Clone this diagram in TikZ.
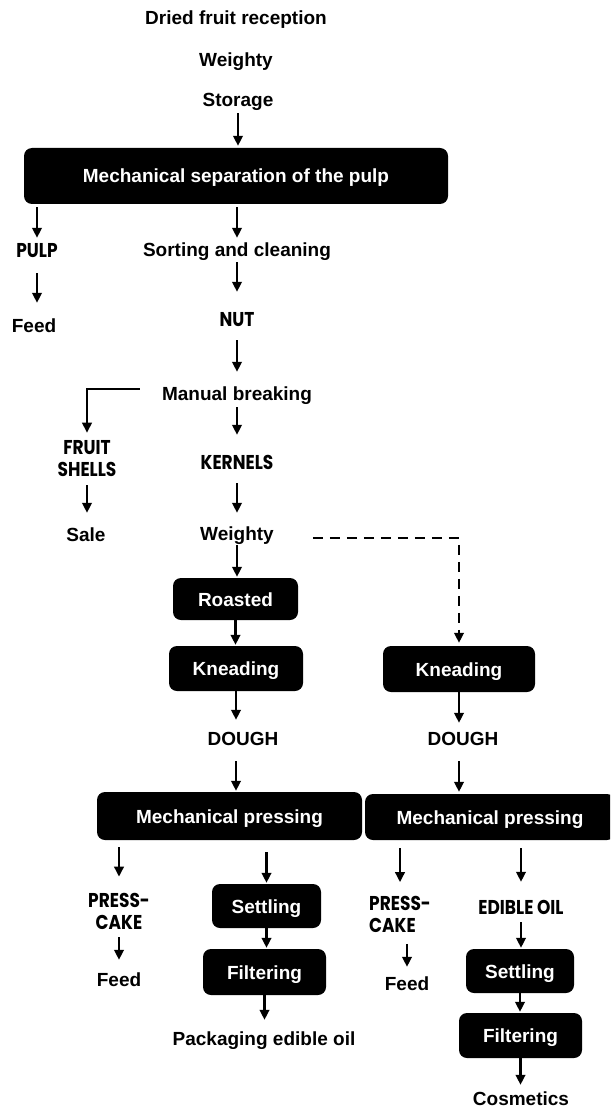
\documentclass[tikz,border=0pt]{standalone}
\usepackage{fontspec}
\setmainfont{Liberation Sans}
\newfontfamily\gothic{Poppins}[FakeStretch=0.85]
\usetikzlibrary{arrows.meta}
\tikzset{
  lbl/.style={font=\bfseries\fontsize{19}{22}\selectfont, inner sep=0pt, text height=14pt, text depth=0pt},
  glbl/.style={font=\gothic\bfseries\fontsize{20}{22}\selectfont, inner sep=0pt, text height=14pt, text depth=0pt},
  glbl2/.style={font=\gothic\bfseries\fontsize{20}{22}\selectfont, inner sep=0pt},
  box/.style={fill=black, text=white, rounded corners=8pt, inner sep=0pt,
    font=\bfseries\fontsize{19}{22}\selectfont, text height=14pt, text depth=0pt},
  arr/.style={line width=2.3pt, -{Triangle[length=10pt,width=9.5pt]}},
  darr/.style={line width=2.3pt, dash pattern=on 10pt off 7pt, -{Triangle[length=10pt,width=9.5pt]}}
}
\begin{document}
\begin{tikzpicture}[x=1pt,y=-1pt]
\useasboundingbox (0,0) rectangle (610,1107);
\clip (0,0) rectangle (610,1107);
% text nodes
\node[lbl] (rec) at (236,18) {Dried fruit reception};
\node[lbl] (w1) at (236,60) {Weighty};
\node[lbl] (stor) at (238,100) {Storage};
\node[box, minimum width=424pt, minimum height=56pt] (sep) at (236,176) {Mechanical separation of the pulp};
\node[glbl] (pulp) at (37,251) {PULP};
\node[lbl] (sort) at (237,249) {Sorting and cleaning};
\node[lbl] (feed1) at (34,325) {Feed};
\node[glbl] (nut) at (237,319) {NUT};
\node[lbl] (mb) at (237,393) {Manual breaking};
\node[glbl2, align=center] (fs) at (87,459) {FRUIT\\SHELLS};
\node[glbl] (kern) at (237,462) {KERNELS};
\node[lbl] (sale) at (86,534) {Sale};
\node[lbl] (w2) at (237,533) {Weighty};
\node[box, minimum width=125pt, minimum height=42pt] (roast) at (235.5,599) {Roasted};
\node[box, minimum width=134pt, minimum height=45pt] (kneadL) at (236,668.5) {Kneading};
\node[box, minimum width=152pt, minimum height=46pt] (kneadR) at (459,669) {Kneading};
\node[lbl] (doughL) at (243,738) {DOUGH};
\node[lbl] (doughR) at (463,738) {DOUGH};
\node[box, minimum width=265pt, minimum height=48pt] (pressL) at (229.5,816) {Mechanical pressing};
\node[box, minimum width=250pt, minimum height=46pt] (pressR) at (490,817) {Mechanical pressing};
\node[glbl2, align=center] (pcL) at (119,911) {PRESS-\\CAKE};
\node[lbl] (feedL) at (119,979) {Feed};
\node[box, minimum width=109pt, minimum height=44pt] (settleL) at (266.5,906) {Settling};
\node[box, minimum width=123pt, minimum height=46pt] (filterL) at (264.5,972) {Filtering};
\node[lbl] (pack) at (264,1038) {Packaging edible oil};
\node[glbl2, align=left] (pcR) at (400,914.5) {PRESS-\\CAKE};
\node[lbl] (feedR) at (407,983) {Feed};
\node[glbl] (eo) at (521,907) {EDIBLE OIL};
\node[box, minimum width=108pt, minimum height=44pt] (settleR) at (520,971) {Settling};
\node[box, minimum width=123pt, minimum height=45pt] (filterR) at (520.5,1035.5) {Filtering};
\node[lbl] (cosm) at (521,1098) {Cosmetics};
% connectors
\draw[arr, shorten <=6pt, shorten >=2pt] (stor.south) -- (stor.south |- sep.north);
\draw[arr, shorten <=3pt, shorten >=6pt] (sep.south -| pulp.north) -- (pulp.north);
\draw[arr, shorten <=3pt, shorten >=4pt] (sep.south -| sort.north) -- (sort.north);
\draw[arr, shorten <=15pt, shorten >=15pt] (pulp.south) -- (pulp.south |- feed1.north);
\draw[arr, shorten <=6pt, shorten >=20pt] (sort.south) -- (sort.south |- nut.north);
\draw[arr, shorten <=14pt, shorten >=14pt] (nut.south) -- (nut.south |- mb.north);
\draw[arr, shorten >=8pt] ([xshift=-22pt,yshift=4pt]mb.west) -| (fs.north);
\draw[arr, shorten <=7pt, shorten >=20pt] (mb.south) -- (mb.south |- kern.north);
\draw[arr, shorten <=8pt, shorten >=14pt] (fs.south) -- (fs.south |- sale.north);
\draw[arr, shorten <=14pt, shorten >=13pt] (kern.south) -- (kern.south |- w2.north);
\draw[arr, shorten <=5pt, shorten >=1pt] (w2.south) -- (w2.south |- roast.north);
\draw[darr, shorten <=39pt, shorten >=3pt] ([yshift=-5pt]w2.east) -| (kneadR.north);
\draw[arr, shorten >=1pt] (roast.south) -- (roast.south |- kneadL.north);
\draw[arr, shorten >=11pt] (kneadL.south) -- (kneadL.south |- doughL.north);
\draw[arr, shorten >=8pt] (kneadR.south) -- (kneadR.south |- doughR.north);
\draw[arr, shorten <=16pt, shorten >=1pt] (kneadL.south |- doughL.south) -- (kneadL.south |- pressL.north);
\draw[arr, shorten <=16pt, shorten >=2pt] (kneadR.south |- doughR.south) -- (kneadR.south |- pressR.north);
\draw[arr, shorten <=7pt, shorten >=16pt] (pressL.south -| pcL.north) -- (pcL.north);
\draw[arr, shorten <=12pt, shorten >=1pt] (pressL.south -| settleL.north) -- (settleL.north);
\draw[arr, shorten <=8pt, shorten >=12pt] (pcL.south) -- (pcL.south |- feedL.north);
\draw[arr, shorten >=1pt] (settleL.south) -- (settleL.south |- filterL.north);
\draw[arr, shorten >=11pt] (filterL.south) -- (filterL.south |- pack.north);
\draw[arr, shorten <=8pt, shorten >=14pt] (pressR.south -| pcR.north) -- (pcR.north);
\draw[arr, shorten <=8pt, shorten >=18pt] (pressR.south -| eo.north) -- (eo.north);
\draw[arr, shorten <=11pt, shorten >=9pt] (pcR.south -| feedR.north) -- (feedR.north);
\draw[arr, shorten <=8pt, shorten >=1pt] (eo.south) -- (eo.south |- settleR.north);
\draw[arr, shorten >=1pt] (settleR.south) -- (settleR.south |- filterR.north);
\draw[arr, shorten >=6pt] (filterR.south) -- (filterR.south |- cosm.north);
\end{tikzpicture}
\end{document}
